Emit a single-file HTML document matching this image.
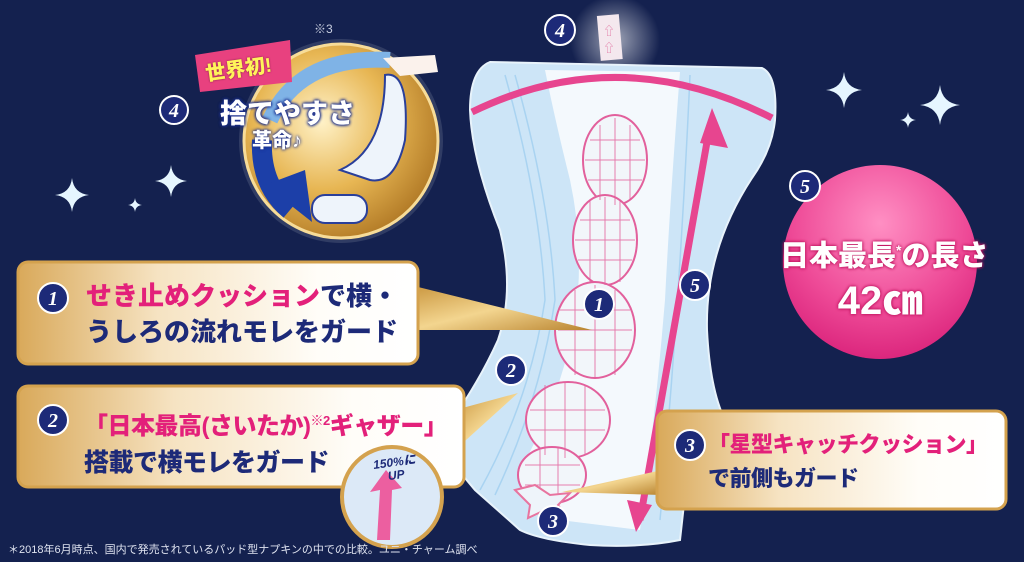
<!DOCTYPE html>
<html><head><meta charset="utf-8"><style>
html,body{margin:0;padding:0;background:#14214f;}
body{width:1024px;height:562px;overflow:hidden;position:relative;font-family:"Liberation Sans","Noto Sans CJK JP",sans-serif;}
.t{position:absolute;font-weight:900;white-space:nowrap;}
</style></head><body>
<svg width="1024" height="562" viewBox="0 0 1024 562" style="position:absolute;left:0;top:0">
<defs>
<linearGradient id="gold" x1="0" y1="0" x2="1" y2="0">
<stop offset="0" stop-color="#d9a95a"/><stop offset="0.35" stop-color="#f6e3c2"/><stop offset="0.75" stop-color="#fffdf8"/><stop offset="1" stop-color="#ffffff"/></linearGradient>
<linearGradient id="goldb" x1="0" y1="0" x2="1" y2="1">
<stop offset="0" stop-color="#c8943c"/><stop offset="0.5" stop-color="#f3d58f"/><stop offset="1" stop-color="#b98430"/></linearGradient>
<radialGradient id="coin" cx="0.4" cy="0.4" r="0.7">
<stop offset="0" stop-color="#fff2c8"/><stop offset="0.5" stop-color="#e7b653"/><stop offset="1" stop-color="#a86f1e"/></radialGradient>
<radialGradient id="pink" cx="0.5" cy="0.3" r="0.75">
<stop offset="0" stop-color="#ff8fc3"/><stop offset="0.6" stop-color="#ee4a97"/><stop offset="1" stop-color="#d81f78"/></radialGradient>
<radialGradient id="glow" cx="0.5" cy="0.5" r="0.5">
<stop offset="0" stop-color="#ffffff" stop-opacity="0.6"/><stop offset="1" stop-color="#ffffff" stop-opacity="0"/></radialGradient>
<symbol id="star" viewBox="-10 -10 20 20"><path d="M0,-10 Q1,-1 10,0 Q1,1 0,10 Q-1,1 -10,0 Q-1,-1 0,-10Z" fill="#e6f6ff"/></symbol>
</defs>
<use href="#star" x="55" y="178" width="34" height="34"/>
<use href="#star" x="155" y="165" width="32" height="32"/>
<use href="#star" x="128" y="198" width="14" height="14"/>
<use href="#star" x="826" y="72" width="36" height="36"/>
<use href="#star" x="900" y="112" width="16" height="16"/>
<use href="#star" x="920" y="85" width="40" height="40"/>
<circle cx="615" cy="40" r="45" fill="url(#glow)"/>
<rect x="599" y="15" width="22" height="45" fill="#f4e8ee" transform="rotate(-5 610 40)"/>
<text x="603" y="35" fill="#e27aa6" font-size="12">⇧</text><text x="603" y="52" fill="#e27aa6" font-size="12">⇧</text>
<!-- pad -->
<path d="M490,62 L762,68 Q778,75 775,120 Q772,150 752,178 Q705,250 707,330 Q710,390 725,420 L690,450 L680,540 Q640,548 590,545 Q540,540 520,530 L475,490 L450,460 L452,420 Q480,380 498,340 Q515,290 500,230 Q472,160 470,110 Q470,70 490,62Z" fill="#cde5f7" stroke="#e8f3fb" stroke-width="2"/>
<path d="M545,70 L680,72 Q670,200 665,300 Q655,420 640,530 L560,520 Q520,500 520,470 Q560,400 575,320 Q585,250 570,180 Q555,120 545,70Z" fill="#f4f9fd"/>
<path d="M505,75 Q540,200 545,300 Q530,400 480,490" fill="none" stroke="#a9d3f1" stroke-width="1.5"/>
<path d="M515,75 Q550,200 555,300 Q540,400 495,495" fill="none" stroke="#a9d3f1" stroke-width="1.5"/>
<path d="M690,75 Q680,300 660,520" fill="none" stroke="#a9d3f1" stroke-width="1.5"/>
<g fill="#f2f6fa" stroke="#e2609c" stroke-width="2">
<ellipse cx="615" cy="160" rx="32" ry="45"/>
<ellipse cx="605" cy="240" rx="32" ry="45"/>
<ellipse cx="595" cy="330" rx="40" ry="48"/>
<ellipse cx="568" cy="420" rx="42" ry="38"/>
<ellipse cx="552" cy="475" rx="34" ry="28"/>
</g>
<g stroke="#e2609c" stroke-width="1" fill="none" opacity="0.8">
<path d="M590,140H640M585,160H645M588,180H642M600,125V200M615,118V205M630,125V200"/>
<path d="M580,220H630M575,240H635M578,260H632M590,200V282M605,197V285M620,200V282"/>
<path d="M560,310H630M558,330H632M560,350H630M575,290V375M595,285V378M615,290V375"/>
<path d="M530,410H605M530,430H605M545,385V455M565,383V458M585,385V455"/>
<path d="M525,465H580M525,485H580M540,450V500M558,448V503"/>
</g>
<path d="M515,490 L535,485 L550,495 L570,493 L558,505 L565,515 L545,510 L528,518 L530,505Z" fill="#eef4fa" stroke="#e8749f" stroke-width="2"/>
<path d="M472,112 Q620,40 772,118" fill="none" stroke="#e7458f" stroke-width="7"/>
<line x1="710" y1="125" x2="640" y2="520" stroke="#e7458f" stroke-width="7"/>
<path d="M712,108 L728,148 L700,143Z" fill="#e7458f"/>
<path d="M636,532 L627,500 L652,505Z" fill="#e7458f"/>
<path d="M410,285 L592,330 L410,330Z" fill="url(#goldb)"/>
<path d="M455,410 L518,393 L455,450Z" fill="url(#goldb)"/>
<path d="M662,470 L562,492 L662,495Z" fill="url(#goldb)"/>
<rect x="18" y="262" width="400" height="102" rx="10" fill="url(#gold)" stroke="#d4a24e" stroke-width="3"/>
<rect x="18" y="386" width="446" height="101" rx="10" fill="url(#gold)" stroke="#d4a24e" stroke-width="3"/>
<rect x="657" y="411" width="349" height="98" rx="10" fill="url(#gold)" stroke="#d4a24e" stroke-width="3"/>
<circle cx="392" cy="497" r="50" fill="#dce9f7" stroke="#d4a24e" stroke-width="4"/>
<path d="M377,540 L380,490 L370,492 L386,470 L402,488 L392,490 L390,540Z" fill="#ec5fa0"/>
<circle cx="880" cy="262" r="97" fill="url(#pink)"/>
<circle cx="341" cy="141" r="102" fill="#ffffff" opacity="0.12"/>
<circle cx="341" cy="141" r="97" fill="url(#coin)" stroke="#f7dc98" stroke-width="3"/>
<path d="M270,120 Q300,55 390,60" fill="none" stroke="#7fb3e6" stroke-width="16"/>
<path d="M262,140 Q260,185 290,210" fill="none" stroke="#1c3fa8" stroke-width="20"/>
<path d="M265,185 L312,222 L305,170Z" fill="#1c3fa8"/>
<path d="M385,75 Q410,70 405,140 Q395,185 370,180 L340,170 Q385,150 385,75Z" fill="#eef4fb" stroke="#2a3f9a" stroke-width="2"/>
<path d="M383,58 L435,55 L438,72 L400,76Z" fill="#fbf2ec"/>
<rect x="312" y="195" width="55" height="28" rx="13" fill="#eef4fb" stroke="#2a3f9a" stroke-width="2"/>
<path d="M195,55 L290,40 L292,82 L200,92Z" fill="#e8417f"/>
<g fill="#1d2a78" stroke="#ffffff" stroke-width="2">
<circle cx="174" cy="110" r="14"/><circle cx="560" cy="30" r="15"/>
<circle cx="805" cy="186" r="15"/><circle cx="695" cy="285" r="15"/>
<circle cx="599" cy="304" r="15"/><circle cx="511" cy="370" r="15"/>
<circle cx="553" cy="521" r="15"/>
<circle cx="53" cy="298" r="15"/><circle cx="53" cy="420" r="15"/><circle cx="690" cy="445" r="15"/>
</g>
<g fill="#ffffff" font-family="Liberation Serif,serif" font-style="italic" font-weight="bold" font-size="20" text-anchor="middle">
<text x="174" y="117">4</text><text x="560" y="37">4</text><text x="805" y="193">5</text><text x="695" y="292">5</text>
<text x="599" y="311">1</text><text x="511" y="377">2</text><text x="553" y="528">3</text>
<text x="53" y="305">1</text><text x="53" y="427">2</text><text x="690" y="452">3</text>
</g>
</svg>
<div class="t" style="left:314px;top:20px;color:#c9cfe0;font-size:12px;font-weight:400">※3</div>
<div class="t" style="left:205px;top:53px;color:#fff35a;font-size:20px;transform:rotate(-8deg);text-shadow:0 0 2px #7a1a40">世界初!</div>
<div class="t" style="left:220px;top:92px;color:#fff;font-size:27px;text-shadow:0 0 3px #1a2f8f,0 0 3px #1a2f8f,0 0 3px #1a2f8f">捨てやすさ</div>
<div class="t" style="left:252px;top:124px;color:#fff;font-size:20px;text-shadow:0 0 3px #1a2f8f,0 0 3px #1a2f8f">革命♪</div>
<div class="t" style="left:86px;top:278px;font-size:26px;color:#1d2a78;line-height:36px">
<span style="color:#e3207a">せき止めクッション</span>で横・<br>うしろの流れモレをガード</div>
<div class="t" style="left:84px;top:403px;font-size:24px;color:#1d2a78;line-height:36px;letter-spacing:-0.5px">
<span style="color:#e3207a">「日本最高(さいたか)<sup style="font-size:13px">※2</sup>ギャザー」</span><br><span style="font-size:25px">搭載で横モレをガード</span></div>
<div class="t" style="left:708px;top:428px;font-size:22px;color:#1d2a78;line-height:34px;letter-spacing:-0.5px">
<span style="color:#e3207a">「星型キャッチクッション」</span><br>で前側もガード</div>
<div class="t" style="left:374px;top:456px;font-size:12px;color:#1d2a78;font-style:italic;transform:rotate(-8deg);line-height:13px;text-align:center">150%に<br>UP</div>
<div class="t" style="left:780px;top:228px;width:200px;text-align:center;font-size:29px;line-height:44px;color:#fff;text-shadow:0 0 3px #c0145f,0 0 3px #c0145f">日本最長<sup style="font-size:14px">*</sup>の長さ<br><span style="font-size:40px">42㎝</span></div>
<div class="t" style="left:8px;top:541px;font-size:11px;color:#dfe3f0;font-weight:400">＊2018年6月時点、国内で発売されているパッド型ナプキンの中での比較。ユニ・チャーム調べ</div>
</body></html>
